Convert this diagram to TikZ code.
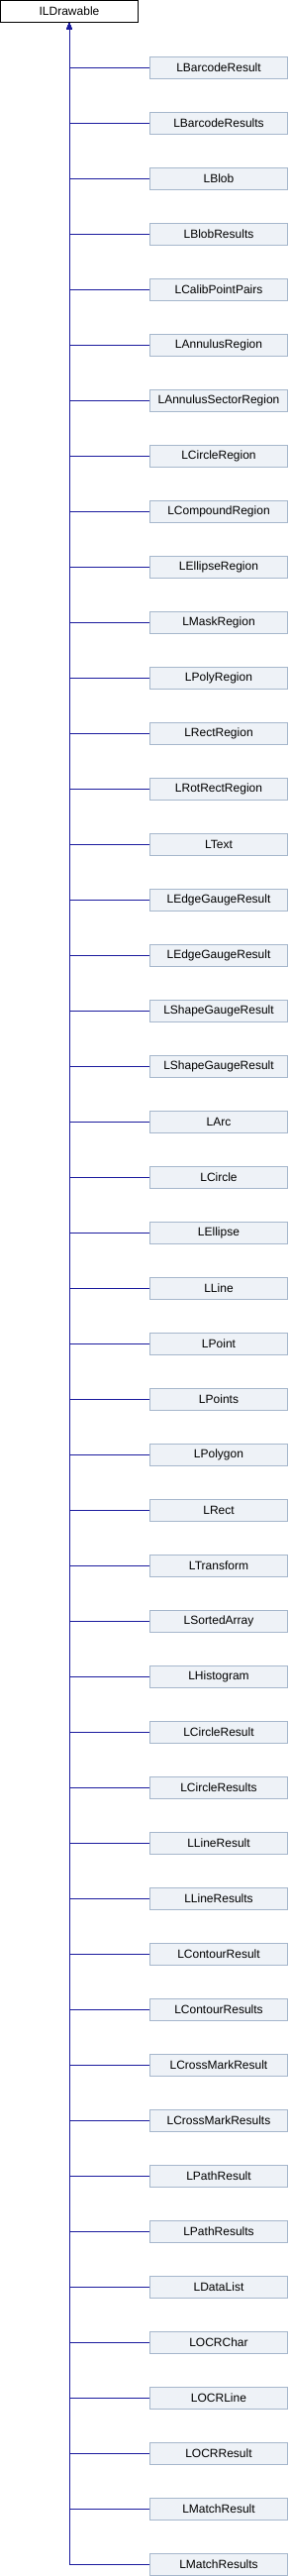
\documentclass[tikz,border=0pt]{standalone}
\usepackage{fontspec}
\setmainfont{Liberation Sans}
\usetikzlibrary{positioning, arrows.meta}
\definecolor{edgeblue}{HTML}{1B1B9E}
\definecolor{boxfill}{HTML}{EEF2F7}
\definecolor{boxline}{HTML}{A6B7CC}

\begin{document}
\begin{tikzpicture}[x=1pt, y=1pt,
    basebox/.style={draw=black, fill=white, line width=1pt, minimum width=139pt,
      minimum height=22pt, inner sep=0pt, font=\fontsize{12}{14}\selectfont},
    classbox/.style={basebox, draw=boxline, fill=boxfill},
    inherit/.style={draw=edgeblue, line width=1pt, -{Triangle[length=6.5pt, width=5pt]}}]
  \useasboundingbox (0,0) rectangle (292,-2600);
  \node[basebox] (root) at (70,-11.5) {ILDrawable};
  % one box per derived class, all hooked to the base
  \foreach \name [count=\i] in {LBarcodeResult, LBarcodeResults, LBlob, LBlobResults,
      LCalibPointPairs, LAnnulusRegion, LAnnulusSectorRegion, LCircleRegion,
      LCompoundRegion, LEllipseRegion, LMaskRegion, LPolyRegion, LRectRegion,
      LRotRectRegion, LText, LEdgeGaugeResult, LEdgeGaugeResult, LShapeGaugeResult,
      LShapeGaugeResult, LArc, LCircle, LEllipse, LLine, LPoint, LPoints, LPolygon,
      LRect, LTransform, LSortedArray, LHistogram, LCircleResult, LCircleResults,
      LLineResult, LLineResults, LContourResult, LContourResults, LCrossMarkResult,
      LCrossMarkResults, LPathResult, LPathResults, LDataList, LOCRChar, LOCRLine,
      LOCRResult, LMatchResult, LMatchResults}{
    \node[classbox] (c\i) at (221,{-68.5-56*(\i-1)}) {\name};
    \draw[inherit] (c\i.west) -| (root.south);
  }
\end{tikzpicture}
\end{document}
